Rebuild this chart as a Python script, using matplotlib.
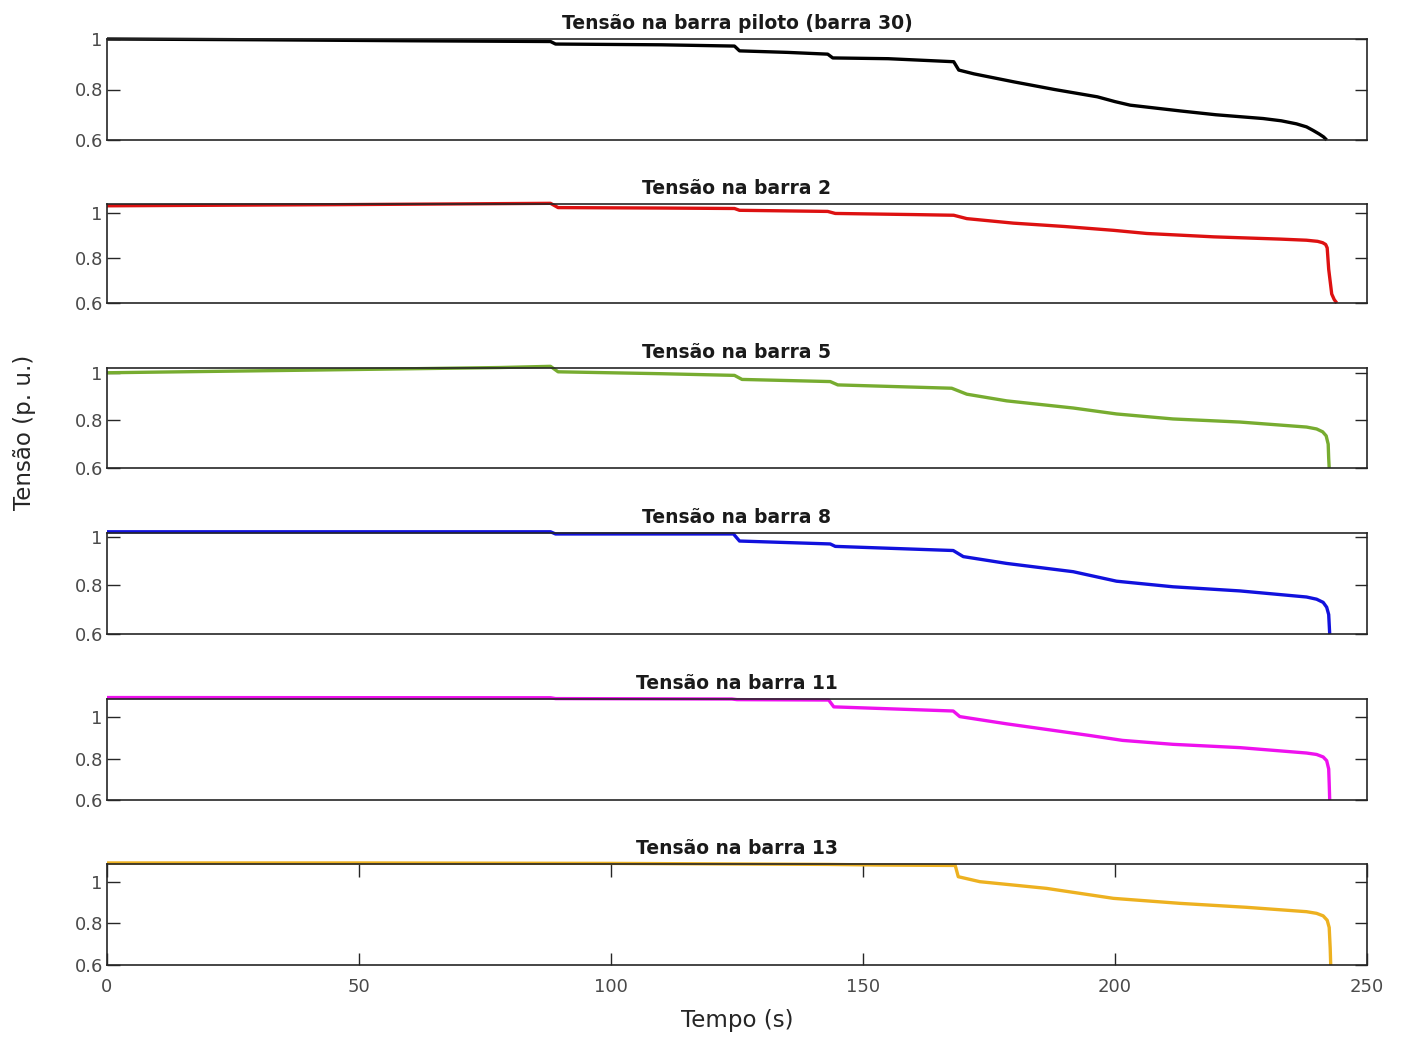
import matplotlib
matplotlib.use("Agg")
import matplotlib.pyplot as plt

# ---------------- data ----------------
titles = ["Tensão na barra piloto (barra 30)", "Tensão na barra 2", "Tensão na barra 5",
          "Tensão na barra 8", "Tensão na barra 11", "Tensão na barra 13"]

t_b30 = [0, 30, 60, 88, 89, 110, 124.5, 125.5, 135, 143, 144, 155, 168, 169, 172, 180, 188, 196.5,
         200, 203, 213, 220, 229.4, 233, 236, 238, 239.3, 240.5, 241.4, 242]
v_b30 = [1.0, 0.997, 0.993, 0.99, 0.98, 0.977, 0.972, 0.953, 0.947, 0.94, 0.925, 0.922, 0.91, 0.877,
         0.862, 0.83, 0.80, 0.771, 0.752, 0.738, 0.715, 0.70, 0.685, 0.676, 0.664, 0.652, 0.638, 0.624,
         0.612, 0.6]

t_b2 = [0, 45, 88, 89.5, 110, 124.5, 125.5, 143, 144.5, 160, 168, 170.6, 179.8, 190, 199.7, 206.3,
        219.6, 232.8, 238, 240.2, 241.2, 241.8, 242.1, 242.4, 243, 243.5, 244]
v_b2 = [1.032, 1.037, 1.043, 1.024, 1.022, 1.02, 1.012, 1.007, 0.998, 0.993, 0.99, 0.975, 0.955, 0.94,
        0.923, 0.909, 0.894, 0.884, 0.879, 0.874, 0.868, 0.86, 0.845, 0.75, 0.64, 0.615, 0.6]

t_b5 = [0, 40, 78, 88, 89.5, 110, 124.5, 126, 143.5, 145, 167.6, 170.6, 178.5, 191.7, 200.3, 211.5,
        224.8, 238, 240, 241.2, 241.9, 242.3, 242.4, 242.5]
v_b5 = [1.0, 1.011, 1.022, 1.027, 1.004, 0.996, 0.989, 0.972, 0.963, 0.949, 0.935, 0.91, 0.882, 0.852,
        0.827, 0.806, 0.793, 0.772, 0.764, 0.752, 0.735, 0.70, 0.64, 0.6]

t_b8 = [0, 88, 89, 110, 124.3, 125.5, 143.5, 144.5, 167.9, 169.9, 178.5, 191.7, 200.3, 211.5, 224.8,
        238, 240, 241.3, 242, 242.4, 242.5, 242.6]
v_b8 = [1.02, 1.02, 1.011, 1.011, 1.011, 0.982, 0.97, 0.96, 0.943, 0.918, 0.89, 0.856, 0.817, 0.794,
        0.777, 0.752, 0.743, 0.73, 0.71, 0.68, 0.64, 0.6]

t_b11 = [0, 88, 89, 124, 125, 143.2, 144.2, 167.9, 169.2, 178.5, 194.9, 201.5, 211.5, 224.8, 238,
         240, 241.3, 242, 242.4, 242.5, 242.6]
v_b11 = [1.095, 1.094, 1.09, 1.088, 1.085, 1.083, 1.05, 1.03, 1.003, 0.968, 0.912, 0.888, 0.869, 0.853,
         0.827, 0.82, 0.808, 0.79, 0.75, 0.68, 0.6]

t_b13 = [0, 50, 100, 143, 153.4, 168.3, 168.9, 173.2, 186.4, 199.7, 212.9, 226.1, 238, 240, 241.3,
         242.1, 242.5, 242.7, 242.8]
v_b13 = [1.09, 1.09, 1.088, 1.083, 1.08, 1.078, 1.024, 1.0, 0.968, 0.92, 0.896, 0.877, 0.856, 0.848,
         0.836, 0.815, 0.78, 0.68, 0.6]

series_t = [t_b30, t_b2, t_b5, t_b8, t_b11, t_b13]
series_v = [v_b30, v_b2, v_b5, v_b8, v_b11, v_b13]
colors = ["#000000", "#dd1111", "#77ac30", "#1111dd", "#ee11ee", "#edb120"]
ytops = [1.0, 1.04, 1.02, 1.015, 1.088, 1.085]

yticks = [0.6, 0.8, 1.0]
ytick_labels = ["0.6", "0.8", "1"]
xticks = [0, 50, 100, 150, 200, 250]
xtick_labels = ["0", "50", "100", "150", "200", "250"]

# ---------------- layout ----------------
W, H = 1404, 1039
fig = plt.figure(figsize=(W / 100, H / 100), dpi=100)
left, right = 107 / W, 1367 / W
boxes_px = [(39, 140), (204, 303), (368, 468), (533, 634), (699, 800), (864, 965)]

tick_len = 9
for i, (top, bot) in enumerate(boxes_px):
    ax = fig.add_axes([left, 1 - bot / H, right - left, (bot - top) / H])
    ax.plot(series_t[i], series_v[i], color=colors[i], lw=2.4, clip_on=False,
            solid_joinstyle="round", solid_capstyle="butt")
    ax.set_xlim(0, 250)
    ax.set_ylim(0.6, ytops[i])
    ax.set_yticks(yticks)
    ax.set_yticklabels(ytick_labels)
    ax.tick_params(axis="y", direction="in", length=tick_len, width=1.0, left=True, right=True,
                   labelsize=13, labelcolor="#4a4a4a", color="#262626", pad=3)
    if i == len(boxes_px) - 1:
        ax.set_xticks(xticks)
        ax.set_xticklabels(xtick_labels)
        ax.tick_params(axis="x", direction="in", length=tick_len, width=1.0, top=True, bottom=True,
                       labelsize=13, labelcolor="#4a4a4a", color="#262626", pad=9)
    else:
        ax.set_xticks([])
    for s in ax.spines.values():
        s.set_color("#262626")
        s.set_linewidth(1.2)
    ax.set_title(titles[i], fontsize=13.5, fontweight="bold", color="#1a1a1a", pad=7.5)

fig.text((left + right) / 2, 1 - 1021 / H, "Tempo (s)", ha="center", va="center",
         fontsize=16.5, color="#262626")
fig.text(25 / W, 1 - 432 / H, "Tensão (p. u.)", ha="center", va="center", rotation=90,
         fontsize=16.5, color="#262626")

fig.savefig("out.png", dpi=100, facecolor="white")
